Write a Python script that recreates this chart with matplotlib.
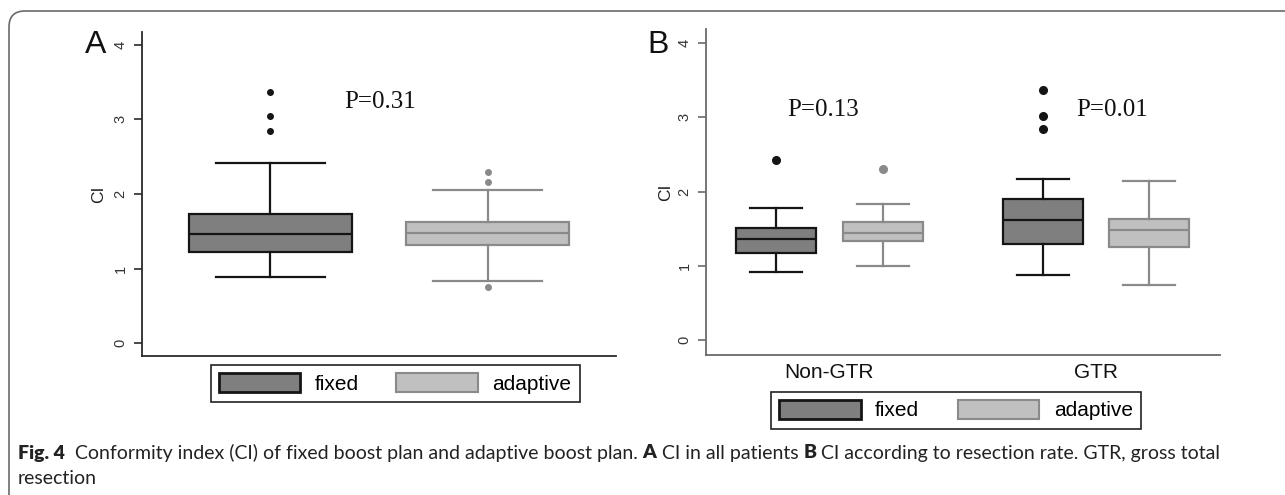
import matplotlib
matplotlib.use("Agg")
import matplotlib.pyplot as plt
from matplotlib.patches import Patch, FancyBboxPatch
from matplotlib.transforms import IdentityTransform

# values (box stats)
series = ["fixed", "adaptive"]

# panel A: all patients
a_med = [1.46, 1.48]
a_q1 = [1.22, 1.32]
a_q3 = [1.73, 1.62]
a_lo = [0.885, 0.83]
a_hi = [2.41, 2.06]
a_fliers = [[3.37, 3.04, 2.84], [2.30, 2.16, 0.75]]
a_pval = "P=0.31"

# panel B: by resection (order: Non-GTR fixed, Non-GTR adaptive, GTR fixed, GTR adaptive)
b_groups = ["Non-GTR", "GTR"]
b_med = [1.36, 1.44, 1.62, 1.48]
b_q1 = [1.18, 1.33, 1.30, 1.26]
b_q3 = [1.51, 1.59, 1.90, 1.63]
b_lo = [0.92, 1.00, 0.88, 0.74]
b_hi = [1.78, 1.84, 2.17, 2.15]
b_fliers = [[2.42], [2.30], [3.37, 3.02, 2.85], []]
b_pvals = ["P=0.13", "P=0.01"]

yticks = [0, 1, 2, 3, 4]

sans = "Liberation Sans"
serif = "Liberation Serif"
capfont = "Lato"

fill = {"fixed": "#7f7f7f", "adaptive": "#c0c0c0"}
edge = {"fixed": "#151515", "adaptive": "#8a8a8a"}


def stats(med, q1, q3, lo, hi, fl, idx):
    return [dict(med=med[i], q1=q1[i], q3=q3[i], whislo=lo[i], whishi=hi[i], fliers=fl[i]) for i in idx]


def draw(ax, st, pos, name, w, cw, ms):
    ax.bxp(st, positions=pos, widths=w, capwidths=cw, patch_artist=True, manage_ticks=False,
           boxprops=dict(facecolor=fill[name], edgecolor=edge[name], linewidth=1.6),
           medianprops=dict(color=edge[name], linewidth=1.6),
           whiskerprops=dict(color=edge[name], linewidth=1.6),
           capprops=dict(color=edge[name], linewidth=1.6),
           flierprops=dict(marker="o", markerfacecolor=edge[name], markeredgecolor=edge[name], markersize=ms))


def style(ax, axcol, labx):
    for s in ["top", "right"]:
        ax.spines[s].set_visible(False)
    for s in ["left", "bottom"]:
        ax.spines[s].set_color(axcol)
        ax.spines[s].set_linewidth(1.3)
    ax.set_yticks(yticks)
    ax.set_yticklabels([str(t) for t in yticks], rotation=90, va="center", fontsize=10.5,
                       color="#333333", family=sans)
    ax.tick_params(axis="y", length=5.5, width=1.2, color=axcol, pad=5)
    ax.set_ylabel("CI", fontsize=12.5, color="#222222", family=sans)
    ax.yaxis.set_label_coords(labx, 0.5)


fig = plt.figure(figsize=(12.85, 4.95), dpi=100)

# panel A
axA = fig.add_axes([0.1105, 0.2808, 0.369, 0.6545])
draw(axA, stats(a_med, a_q1, a_q3, a_lo, a_hi, a_fliers, [0]), [1], "fixed", 0.75, 0.5, 4)
draw(axA, stats(a_med, a_q1, a_q3, a_lo, a_hi, a_fliers, [1]), [2], "adaptive", 0.75, 0.5, 4)
axA.set_xlim(0.41, 2.59)
axA.set_ylim(-0.17, 4.17)
axA.set_xticks([])
style(axA, "#2a2a2a", -0.076)
axA.text(1.34, 3.23, a_pval, family=serif, fontsize=18, va="center", ha="left", color="#111111")

# panel B
axB = fig.add_axes([0.5494, 0.2828, 0.400, 0.6586])
draw(axB, stats(b_med, b_q1, b_q3, b_lo, b_hi, b_fliers, [0, 2]), [0.8, 1.8], "fixed", 0.3, 0.195, 5.5)
draw(axB, stats(b_med, b_q1, b_q3, b_lo, b_hi, b_fliers, [1, 3]), [1.2, 2.2], "adaptive", 0.3, 0.195, 5.5)
axB.set_xlim(0.537, 2.465)
axB.set_ylim(-0.2, 4.19)
axB.set_xticks([1, 2])
axB.set_xticklabels(b_groups, family=sans, fontsize=15, color="#111111")
axB.tick_params(axis="x", length=0, pad=6)
style(axB, "#6a6a6a", -0.064)
for x, p in zip([0.84, 1.925], b_pvals):
    axB.text(x, 3.10, p, family=serif, fontsize=18, va="center", ha="left", color="#111111")

# panel letters
fig.text(85 / 1285, 1 - 53 / 495, "A", fontsize=23, family=sans, va="baseline", color="#111111")
fig.text(647 / 1285, 1 - 53 / 495, "B", fontsize=23, family=sans, va="baseline", color="#111111")

# legends
handles = [Patch(facecolor=fill[s], edgecolor=edge[s], linewidth=2.0 if s == "fixed" else 1.5, label=s)
           for s in series]
for bb in [(0.164, 0.188, 0.287, 0.081), (0.6, 0.134, 0.288, 0.081)]:
    leg = fig.legend(handles=handles, loc="lower left", bbox_to_anchor=bb, mode="expand", ncol=2,
                     borderaxespad=0, fancybox=False, edgecolor="#222222", framealpha=1,
                     handlelength=3.9, handleheight=1.0, handletextpad=0.7, borderpad=0.4,
                     prop=dict(family=sans, size=15))
    leg.get_frame().set_linewidth(1.2)

# outer frame
fig.patches.append(FancyBboxPatch((9, -60), 1400, 544, boxstyle="round,pad=0,rounding_size=16",
                                  transform=IdentityTransform(), facecolor="none",
                                  edgecolor="#6a6a6a", linewidth=1.2, figure=fig))

# caption with bold pieces
cap1 = [("Fig. 4", True), ("  Conformity index (CI) of fixed boost plan and adaptive boost plan. ", False),
        ("A", True), (" CI in all patients ", False), ("B", True),
        (" CI according to resection rate. GTR, gross total", False)]
cap2 = [("resection", False)]
fig.canvas.draw()
r = fig.canvas.get_renderer()
for line, ypx in [(cap1, 453), (cap2, 478)]:
    x = 18
    for txt, bold in line:
        t = fig.text(x / 1285, 1 - ypx / 495, txt, family=capfont, fontsize=14.0,
                     fontweight="heavy" if bold else "normal", va="center", ha="left", color="#222222")
        x += t.get_window_extent(r).width

fig.savefig("out.png", dpi=100)
